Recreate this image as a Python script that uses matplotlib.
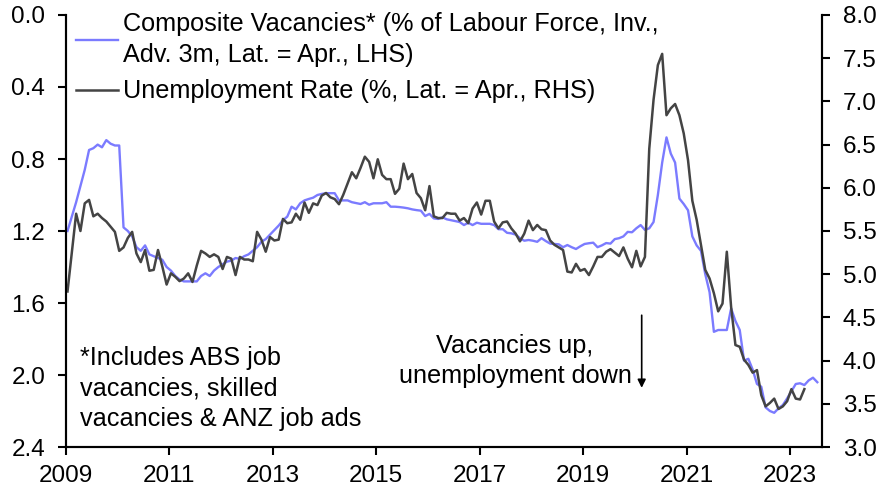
import numpy as np
import matplotlib
matplotlib.use("Agg")
import matplotlib.pyplot as plt

# monthly series, Jan 2009 onwards
vacancies = [
    1.20, 1.12, 1.04, 0.95, 0.86, 0.75, 0.74, 0.72, 0.735, 0.695,
    0.715, 0.725, 0.725, 1.18, 1.20, 1.23, 1.29, 1.31, 1.28, 1.33,
    1.34, 1.35, 1.36, 1.40, 1.42, 1.45, 1.47, 1.48, 1.48, 1.48,
    1.48, 1.45, 1.435, 1.45, 1.42, 1.40, 1.385, 1.37, 1.365, 1.35,
    1.355, 1.34, 1.33, 1.31, 1.29, 1.26, 1.245, 1.22, 1.195, 1.17,
    1.14, 1.12, 1.065, 1.08, 1.046, 1.03, 1.022, 1.015, 1.0, 0.994,
    0.99, 0.99, 0.99, 1.03, 1.03, 1.03, 1.04, 1.045, 1.05, 1.04,
    1.054, 1.046, 1.046, 1.046, 1.04, 1.065, 1.065, 1.067, 1.07, 1.074,
    1.08, 1.084, 1.087, 1.117, 1.105, 1.13, 1.133, 1.124, 1.135, 1.14,
    1.145, 1.15, 1.167, 1.154, 1.167, 1.154, 1.16, 1.16, 1.16, 1.167,
    1.19, 1.19, 1.21, 1.213, 1.22, 1.24, 1.254, 1.25, 1.254, 1.26,
    1.24, 1.256, 1.27, 1.272, 1.274, 1.29, 1.278, 1.29, 1.30, 1.285,
    1.272, 1.268, 1.265, 1.29, 1.28, 1.267, 1.27, 1.245, 1.24, 1.23,
    1.205, 1.207, 1.185, 1.167, 1.194, 1.185, 1.15, 1.00, 0.82, 0.68,
    0.77, 0.82, 1.02, 1.05, 1.085, 1.23, 1.28, 1.31, 1.44, 1.54,
    1.76, 1.75, 1.75, 1.75, 1.63, 1.70, 1.75, 1.92, 1.91, 1.97,
    2.05, 2.065, 2.18, 2.20, 2.21, 2.185, 2.167, 2.13, 2.09, 2.05,
    2.046, 2.056, 2.03, 2.015, 2.04,
]

unemployment = [
    4.80, 5.25, 5.70, 5.50, 5.82, 5.86, 5.67, 5.70, 5.65, 5.61,
    5.55, 5.49, 5.27, 5.31, 5.42, 5.49, 5.24, 5.14, 5.28, 5.04,
    5.05, 5.28, 5.09, 4.88, 5.01, 4.97, 4.92, 4.95, 5.01, 4.91,
    5.10, 5.27, 5.24, 5.20, 5.23, 5.20, 5.06, 5.20, 5.18, 4.99,
    5.20, 5.17, 5.17, 5.15, 5.49, 5.40, 5.26, 5.43, 5.39, 5.40,
    5.64, 5.59, 5.60, 5.70, 5.63, 5.83, 5.71, 5.82, 5.80, 5.91,
    5.94, 5.89, 5.87, 5.81, 5.92, 6.05, 6.18, 6.11, 6.23, 6.36,
    6.30, 6.11, 6.33, 6.15, 6.10, 6.10, 5.93, 5.99, 6.28, 6.10,
    6.16, 5.94, 5.88, 5.74, 6.02, 5.67, 5.65, 5.65, 5.71, 5.70,
    5.70, 5.62, 5.65, 5.59, 5.76, 5.83, 5.69, 5.85, 5.85, 5.61,
    5.53, 5.60, 5.61, 5.53, 5.47, 5.38, 5.47, 5.62, 5.51, 5.57,
    5.52, 5.51, 5.39, 5.34, 5.31, 5.28, 5.03, 5.02, 5.12, 5.04,
    5.06, 4.99, 5.09, 5.20, 5.20, 5.26, 5.29, 5.25, 5.21, 5.31,
    5.18, 5.08, 5.27, 5.09, 5.20, 6.45, 7.02, 7.42, 7.55, 6.84,
    6.92, 6.97, 6.84, 6.63, 6.32, 5.85, 5.63, 5.34, 5.05, 4.95,
    4.78, 4.57, 4.66, 5.26, 4.62, 4.18, 4.16, 4.01, 3.95, 3.86,
    3.89, 3.60, 3.47, 3.51, 3.56, 3.44, 3.47, 3.53, 3.67, 3.56,
    3.55, 3.67,
]

year_ticks = [2009, 2011, 2013, 2015, 2017, 2019, 2021, 2023]
left_ticks = [0.0, 0.4, 0.8, 1.2, 1.6, 2.0, 2.4]
right_ticks = [3.0, 3.5, 4.0, 4.5, 5.0, 5.5, 6.0, 6.5, 7.0, 7.5, 8.0]

vac_label = "Composite Vacancies* (% of Labour Force, Inv.,\nAdv. 3m, Lat. = Apr., LHS)"
unemp_label = "Unemployment Rate (%, Lat. = Apr., RHS)"
note = "*Includes ABS job\nvacancies, skilled\nvacancies & ANZ job ads"
arrow_text = "Vacancies up,\nunemployment down"

FS = 17.5   # tick labels
TS = 18.2   # legend and notes
plt.rcParams["font.family"] = ["Liberation Sans", "DejaVu Sans"]
plt.rcParams["font.size"] = FS

# monthly points sit a little after the start of each month
x_vac = 2009 + (np.arange(len(vacancies)) + 0.35) / 12
x_unemp = 2009 + (np.arange(len(unemployment)) + 0.35) / 12

fig = plt.figure(figsize=(8.85, 4.98), dpi=100)
ax = fig.add_axes([66 / 885, 1 - 447 / 498, 756 / 885, 432 / 498])
ax2 = ax.twinx()

l1, = ax.plot(x_vac, vacancies, color="#7b7bff", lw=1.7, label=vac_label)
l2, = ax2.plot(x_unemp, unemployment, color="#444444", lw=1.8, label=unemp_label)

ax.set_xlim(2009, 2023.62)
ax.set_ylim(2.4, 0.0)
ax2.set_ylim(3.0, 8.0)

ax.set_xticks(year_ticks)
ax.set_yticks(left_ticks)
ax.set_yticklabels([f"{t:.1f}" for t in left_ticks])
ax2.set_yticks(right_ticks)
ax2.set_yticklabels([f"{t:.1f}" for t in right_ticks])

for a in (ax, ax2):
    a.spines["top"].set_visible(False)
    for s in a.spines.values():
        s.set_linewidth(1.5)
    a.tick_params(width=1.5, length=6, direction="out", labelsize=FS)
ax.tick_params(axis="y", pad=9)
ax.tick_params(axis="x", pad=7)
ax2.tick_params(axis="y", pad=9)

leg = ax2.legend(handles=[l1, l2], loc="upper left", bbox_to_anchor=(0.0, 1.03),
                 frameon=False, fontsize=TS, handlelength=1.65, handletextpad=0.2,
                 labelspacing=0.5, borderaxespad=0.0, borderpad=0.4)
for t in leg.get_texts():
    t.set_linespacing(1.35)

ax.text(0.019, 0.136, note, transform=ax.transAxes, ha="left", va="center",
        fontsize=TS, linespacing=1.35)
ax.text(0.594, 0.199, arrow_text, transform=ax.transAxes, ha="center",
        va="center", fontsize=TS, linespacing=1.3)
ax.annotate("", xy=(0.7615, 0.137), xytext=(0.7615, 0.305),
            xycoords="axes fraction", textcoords="axes fraction",
            arrowprops=dict(arrowstyle="-|>", color="black", lw=1.2,
                            mutation_scale=12, shrinkA=0, shrinkB=0))

fig.savefig("out.png", dpi=100)
